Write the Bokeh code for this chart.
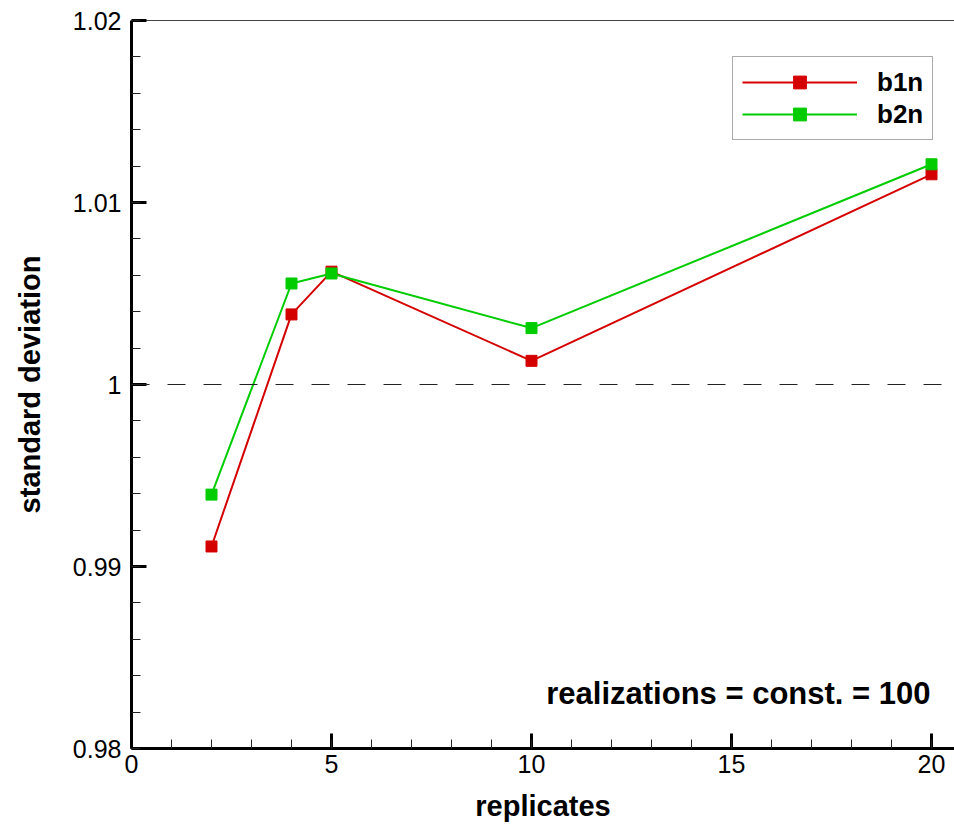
from bokeh.plotting import figure
from bokeh.models import (FixedTicker, CustomJSTickFormatter, LinearAxis, Span,
                          Label, Range1d, Legend)
from bokeh.embed import file_html
from bokeh.resources import INLINE

replicates = [2, 4, 5, 10, 20]
b1n = [0.9911, 1.00385, 1.0062, 1.0013, 1.01155]
b2n = [0.99395, 1.00555, 1.0061, 1.0031, 1.0121]
x_major = [0, 5, 10, 15, 20]
x_minor = list(range(0, 21))
y_major = [0.98, 0.99, 1.0, 1.01, 1.02]
y_minor = [0.98 + 0.002 * i for i in range(21)]
note = "realizations = const. = 100"
ref_value = 1.0

FONT = "Liberation Sans"
RED = "#d40000"
GREEN = "#00cc00"

p = figure(width=954, height=829, output_backend="svg", toolbar_location=None,
           x_range=Range1d(0, 20.575), y_range=Range1d(0.98, 1.02),
           min_border_left=131, min_border_right=0, min_border_top=20,
           min_border_bottom=81, x_axis_type=None, y_axis_type=None)
p.outline_line_color = None
p.xgrid.visible = False
p.ygrid.visible = False
p.background_fill_color = "white"
p.border_fill_color = "white"

fmt = CustomJSTickFormatter(code="return String(+tick.toFixed(3));")

xaxis = LinearAxis(ticker=FixedTicker(ticks=x_major, minor_ticks=x_minor),
                   formatter=fmt, axis_label="replicates")
yaxis = LinearAxis(ticker=FixedTicker(ticks=y_major, minor_ticks=y_minor),
                   formatter=fmt, axis_label="standard deviation")
for ax in (xaxis, yaxis):
    ax.axis_line_width = 3
    ax.axis_line_color = "black"
    ax.major_tick_in = 15
    ax.major_tick_out = 0
    ax.minor_tick_in = 9
    ax.minor_tick_out = 0
    ax.major_tick_line_width = 3
    ax.minor_tick_line_width = 1
    ax.minor_tick_line_color = "#222222"
    ax.major_label_text_font = FONT
    ax.major_label_text_font_size = "25px"
    ax.major_label_text_color = "black"
    ax.axis_label_text_font = FONT
    ax.axis_label_text_font_size = "29px"
    ax.axis_label_text_font_style = "bold"
    ax.axis_label_text_color = "black"
xaxis.major_label_standoff = 6
xaxis.axis_label_standoff = 14
yaxis.major_label_standoff = 10
yaxis.axis_label_standoff = 24
p.add_layout(xaxis, "below")
p.add_layout(yaxis, "left")

top = LinearAxis(ticker=FixedTicker(ticks=[]), major_label_text_font_size="0px",
                 major_tick_line_color=None, minor_tick_line_color=None,
                 axis_line_color="#444444", axis_line_width=1)
p.add_layout(top, "above")

p.add_layout(Span(location=ref_value, dimension="width", line_color="#222222",
                  line_width=1, line_dash="18 18"))

r1l = p.line(replicates, b1n, line_color=RED, line_width=2)
r1m = p.scatter(replicates, b1n, marker="square", size=11, fill_color=RED, line_color=RED)
r2l = p.line(replicates, b2n, line_color=GREEN, line_width=2)
r2m = p.scatter(replicates, b2n, marker="square", size=11, fill_color=GREEN, line_color=GREEN)

legend = Legend(items=[("b1n", [r1l, r1m]), ("b2n", [r2l, r2m])],
                location=(601, 608))
legend.label_text_font = FONT
legend.label_text_font_size = "26px"
legend.label_text_font_style = "bold"
legend.label_text_color = "black"
legend.glyph_width = 115
legend.glyph_height = 32
legend.label_height = 32
legend.label_standoff = 20
legend.spacing = 0
legend.padding = 9
legend.margin = 0
legend.border_line_color = "#555555"
legend.border_line_width = 1
legend.background_fill_alpha = 1
p.add_layout(legend, "center")

p.add_layout(Label(x=19.975, y=0.98302, text=note, text_font=FONT,
                   text_font_size="31px", text_font_style="bold",
                   text_color="black", text_align="right",
                   text_baseline="alphabetic"))

open("out.html", "w").write(file_html(p, INLINE))
